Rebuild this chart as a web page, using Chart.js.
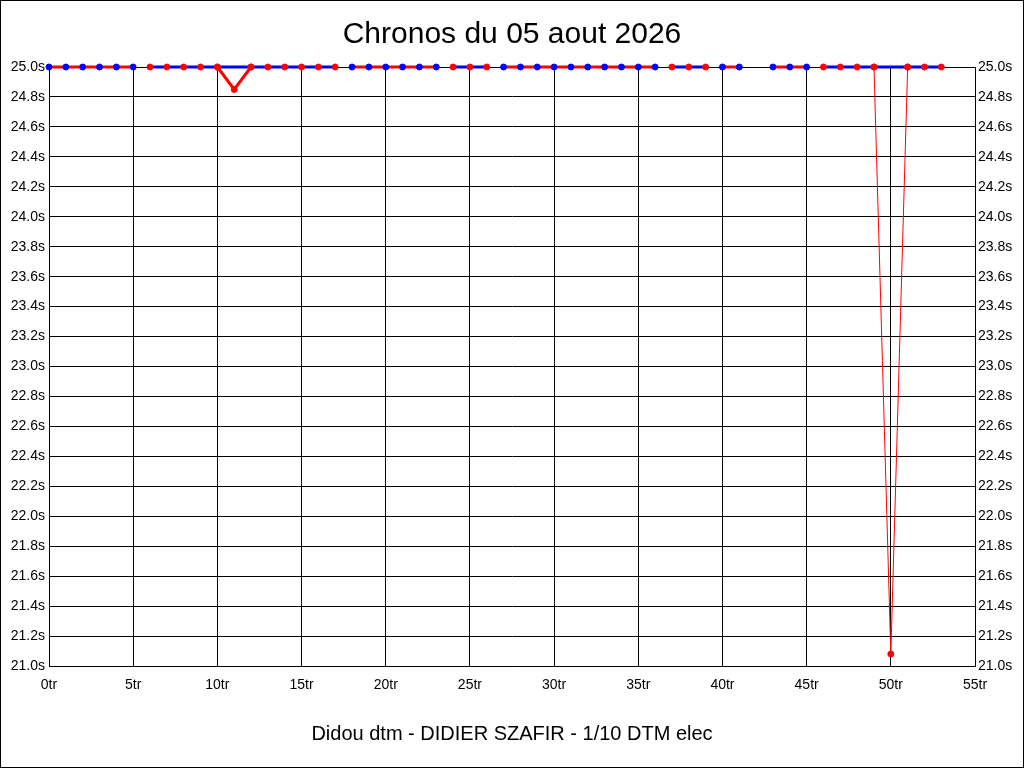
<!doctype html>
<html lang="fr">
  <head>
    <meta charset="UTF-8" />
    <title>Chronos du 05 aout 2026</title>
    <script src="https://cdn.jsdelivr.net/npm/chart.js"></script>
    <style>
      body { margin: 0; background: #fff; }
      #frame { width: 1022px; height: 766px; border: 1px solid #000; position: relative; }
    </style>
  </head>
  <body>
    <div id="frame">
      <canvas id="chronos"></canvas>
    </div>
    <script>
      // laps 0..53, lap 42 has no time
      const lapNumbers = [
        0, 1, 2, 3, 4, 5, 6, 7, 8, 9, 10, 11, 12, 13, 14, 15, 16, 17, 18, 19,
        20, 21, 22, 23, 24, 25, 26, 27, 28, 29, 30, 31, 32, 33, 34, 35, 36, 37,
        38, 39, 40, 41, 42, 43, 44, 45, 46, 47, 48, 49, 50, 51, 52, 53,
      ];
      const lapTimes = [
        25.0, 25.0, 25.0, 25.0, 25.0, 25.0, 25.0, 25.0, 25.0, 25.0, 25.0, 24.85,
        25.0, 25.0, 25.0, 25.0, 25.0, 25.0, 25.0, 25.0, 25.0, 25.0, 25.0, 25.0,
        25.0, 25.0, 25.0, 25.0, 25.0, 25.0, 25.0, 25.0, 25.0, 25.0, 25.0, 25.0,
        25.0, 25.0, 25.0, 25.0, 25.0, 25.0, null, 25.0, 25.0, 25.0, 25.0, 25.0,
        25.0, 25.0, 21.08, 25.0, 25.0, 25.0,
      ];
      // first lap of each run (line breaks between runs)
      const runStarts = [0, 6, 18, 24, 27, 37, 40, 46];

      const yMin = 21.0;
      const yMax = 25.0;
      const RED = "#ff0000";
      const BLUE = "#0000ff";
      const FONT = "'Liberation Sans', Arial, sans-serif";

      function lineSet(data, lineColor, dotColor, width) {
        return {
          data: data,
          borderColor: lineColor,
          borderWidth: width || 3,
          pointBackgroundColor: dotColor,
          pointBorderColor: dotColor,
          pointRadius: 3,
          pointBorderWidth: 1,
          tension: 0,
          spanGaps: false,
          clip: false,
        };
      }

      const allPoints = lapNumbers.map((x, i) => ({ x: x, y: lapTimes[i] }));
      const datasets = [];
      runStarts.forEach((start, k) => {
        const end = k + 1 < runStarts.length ? runStarts[k + 1] : Infinity;
        const pts = allPoints.filter((p) => p.x >= start && p.x < end);
        if (k % 2 === 0) {
          datasets.push(lineSet(pts, RED, BLUE));
        } else {
          // red drops on laps below the ceiling
          pts.forEach((p, i) => {
            if (p.y !== null && p.y < yMax) {
              const w = yMax - p.y > 1 ? 1 : 3;
              datasets.push(lineSet([pts[i - 1], p, pts[i + 1]], RED, RED, w));
            }
          });
          datasets.push(lineSet(pts.filter((p) => p.y >= yMax), BLUE, RED));
        }
      });

      const tickFont = { family: FONT, size: 14 };

      new Chart(document.getElementById("chronos"), {
        type: "line",
        data: { datasets: datasets },
        options: {
          responsive: true,
          maintainAspectRatio: false,
          animation: false,
          layout: { padding: { left: 0, right: 0, top: 0, bottom: 17 } },
          plugins: {
            legend: { display: false },
            tooltip: { enabled: false },
            title: {
              display: true,
              text: "Chronos du 05 aout 2026",
              color: "#000",
              font: { family: FONT, size: 30, weight: "normal" },
              padding: { top: 16, bottom: 14 },
            },
          },
          scales: {
            x: {
              type: "linear",
              min: 0,
              max: 55,
              ticks: {
                stepSize: 5,
                color: "#000",
                font: tickFont,
                padding: 11,
                maxRotation: 0,
                callback: (v) => v + "tr",
              },
              grid: { color: "#000", drawTicks: false },
              border: { color: "#000" },
              title: {
                display: true,
                text: "Didou dtm - DIDIER SZAFIR - 1/10 DTM elec",
                color: "#000",
                font: { family: FONT, size: 20 },
                padding: { top: 4, bottom: 4 },
              },
              afterFit: (s) => { s.height = 84; },
            },
            y: {
              position: "left",
              min: yMin,
              max: yMax,
              ticks: {
                stepSize: 0.2,
                color: "#000",
                font: tickFont,
                padding: 4,
                callback: (v) => v.toFixed(1) + "s",
              },
              grid: { color: "#000", drawTicks: false },
              border: { color: "#000" },
              afterFit: (s) => { s.width = 48; },
            },
            y2: {
              position: "right",
              min: yMin,
              max: yMax,
              ticks: {
                stepSize: 0.2,
                color: "#000",
                font: tickFont,
                padding: 3,
                callback: (v) => v.toFixed(1) + "s",
              },
              grid: { display: false, drawTicks: false },
              border: { color: "#000" },
              afterFit: (s) => { s.width = 48; },
            },
          },
        },
      });
    </script>
  </body>
</html>
